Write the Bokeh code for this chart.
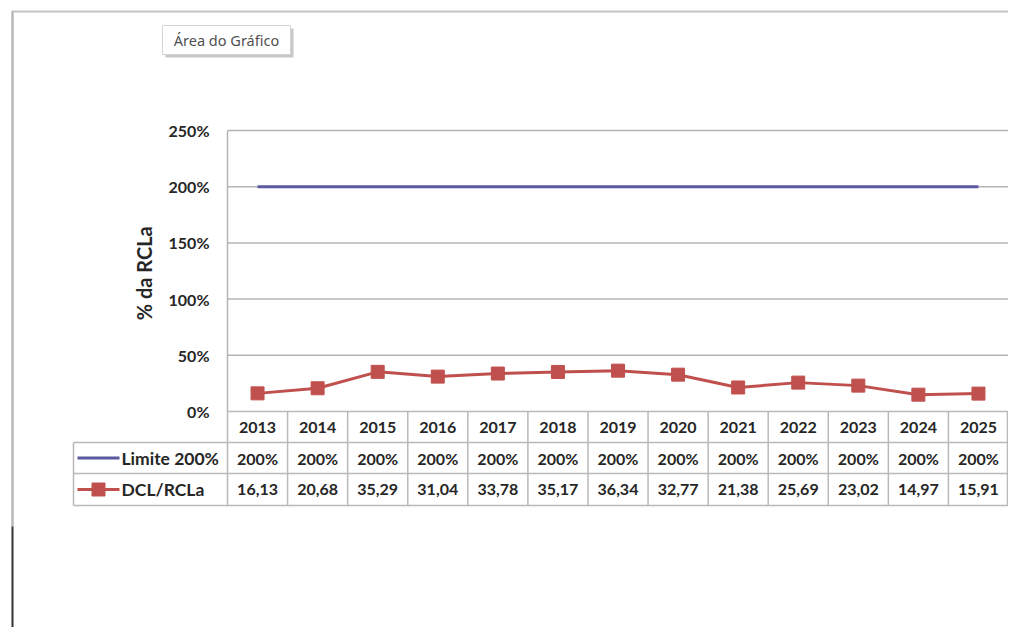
import math
from bokeh.plotting import figure
from bokeh.models import Range1d, ColumnDataSource
from bokeh.core.properties import value
from bokeh.embed import file_html
from bokeh.resources import INLINE

# ---------------- data ----------------
years = ["2013", "2014", "2015", "2016", "2017", "2018", "2019",
         "2020", "2021", "2022", "2023", "2024", "2025"]
limite = [200, 200, 200, 200, 200, 200, 200, 200, 200, 200, 200, 200, 200]
dcl_rcla = [16.13, 20.68, 35.29, 31.04, 33.78, 35.17, 36.34,
            32.77, 21.38, 25.69, 23.02, 14.97, 15.91]
y_ticks = [0, 50, 100, 150, 200, 250]
series_names = ["Limite 200%", "DCL/RCLa"]
y_title = "% da RCLa"
tooltip_text = "Área do Gráfico"

# ---------------- layout (picture pixels) ----------------
W, H = 1008, 627
PX_LEFT, PX_RIGHT = 227, 1008   # plot area left/right
PY_TOP, PY_BOTTOM = 130, 411    # plot area top (250%) / bottom (0%)
N = len(years)
XW = (PX_RIGHT - PX_LEFT) / N
YS = (PY_BOTTOM - PY_TOP) / 250.0


def dx(px):
    return (px - PX_LEFT) / XW - 0.5


def dy(py):
    return (PY_BOTTOM - py) / YS


p = figure(width=W, height=H, output_backend="svg", toolbar_location=None,
           x_range=Range1d(dx(0), dx(W)), y_range=Range1d(dy(H), dy(0)),
           x_axis_type=None, y_axis_type=None, min_border=0)
p.grid.visible = False
p.outline_line_color = None
p.background_fill_color = "white"
p.border_fill_color = "white"

FONT = value("Lato")
GRID = "#b4b4b4"
TABLE = "#b9b9b9"
BLUE = "#5a5aa0"
RED = "#c0504d"
INK = "#262626"

# outer sheet frame
p.segment(x0=[dx(11)], y0=[dy(11)], x1=[dx(1016)], y1=[dy(11)], line_color="#c4c4c4", line_width=2)
p.segment(x0=[dx(12)], y0=[dy(11)], x1=[dx(12)], y1=[dy(526)], line_color="#b8b8b8", line_width=2.5)
p.segment(x0=[dx(12)], y0=[dy(526)], x1=[dx(12)], y1=[dy(640)], line_color="#333333", line_width=2)

# tooltip "Área do Gráfico"
p.quad(left=[dx(165)], right=[dx(293)], top=[dy(28)], bottom=[dy(57)],
       fill_color="#9a9a9a", fill_alpha=0.55, line_color=None)
p.quad(left=[dx(162)], right=[dx(290)], top=[dy(25)], bottom=[dy(54)],
       fill_color="white", line_color="#d4d4d4", line_width=1)
p.text(x=[dx(226)], y=[dy(39.5)], text=[tooltip_text], text_font=value("Noto Sans"),
       text_font_size="14.5px", text_color="#505050", text_align="center", text_baseline="middle")

# gridlines and plot area left edge
gt = [t for t in y_ticks if t > 0]
p.segment(x0=[-0.5] * len(gt), y0=gt, x1=[N - 0.5] * len(gt), y1=gt, line_color=GRID, line_width=1.5)
p.segment(x0=[-0.5], y0=[y_ticks[0]], x1=[-0.5], y1=[y_ticks[-1]], line_color=GRID, line_width=1.5)

# y tick labels
p.text(x=[dx(209)] * len(y_ticks), y=y_ticks, text=[f"{t}%" for t in y_ticks], text_font=FONT,
       text_font_style="bold", text_font_size="16px", text_color=INK,
       text_align="right", text_baseline="middle")

# y axis title
p.text(x=[dx(143)], y=[(y_ticks[0] + y_ticks[-1]) / 2 - 2], text=[y_title], angle=math.pi / 2,
       text_font=FONT, text_font_style="bold", text_font_size="20px", text_color=INK,
       text_align="center", text_baseline="middle")

# series
xs = list(range(N))
p.line(xs, limite, line_color=BLUE, line_width=3)
src = ColumnDataSource(dict(x=xs, y=dcl_rcla))
p.line("x", "y", source=src, line_color=RED, line_width=3)
p.scatter("x", "y", source=src, marker="square", size=13, fill_color=RED, line_color=RED)

# data table
row_tops = [411, 442, 473, 505]
legend_left = 73
p.segment(x0=[-0.5], y0=[dy(row_tops[0])], x1=[N - 0.5], y1=[dy(row_tops[0])], line_color=TABLE, line_width=1.5)
for r in row_tops[1:]:
    p.segment(x0=[dx(legend_left)], y0=[dy(r)], x1=[N - 0.5], y1=[dy(r)], line_color=TABLE, line_width=1.5)
p.segment(x0=[dx(legend_left)], y0=[dy(row_tops[1])], x1=[dx(legend_left)], y1=[dy(row_tops[3])],
          line_color=TABLE, line_width=1.5)
vx = [i - 0.5 for i in range(N + 1)]
vx[-1] = dx(W - 1)
p.segment(x0=vx, y0=[dy(row_tops[0])] * len(vx), x1=vx, y1=[dy(row_tops[3])] * len(vx),
          line_color=TABLE, line_width=1.5)

row_mid = [dy((row_tops[i] + row_tops[i + 1]) / 2) for i in range(3)]
text_kw = dict(text_font=FONT, text_font_style="bold", text_font_size="16px", text_color=INK,
               text_align="center", text_baseline="middle")
p.text(x=xs, y=[row_mid[0]] * N, text=years, **text_kw)
p.text(x=xs, y=[row_mid[1]] * N, text=[f"{v}%" for v in limite], **text_kw)
p.text(x=xs, y=[row_mid[2]] * N, text=[f"{v:.2f}".replace(".", ",") for v in dcl_rcla], **text_kw)

# legend keys in table
p.segment(x0=[dx(77)], y0=[row_mid[1]], x1=[dx(119)], y1=[row_mid[1]], line_color=BLUE, line_width=3)
p.segment(x0=[dx(77)], y0=[row_mid[2]], x1=[dx(119)], y1=[row_mid[2]], line_color=RED, line_width=3)
p.scatter(x=[dx(98)], y=[row_mid[2]], marker="square", size=13, fill_color=RED, line_color=RED)
p.text(x=[dx(121)] * 2, y=row_mid[1:], text=series_names, text_font=FONT, text_font_style="bold",
       text_font_size="17.5px", text_color=INK, text_align="left", text_baseline="middle")

open("out.html", "w").write(file_html(p, INLINE))
